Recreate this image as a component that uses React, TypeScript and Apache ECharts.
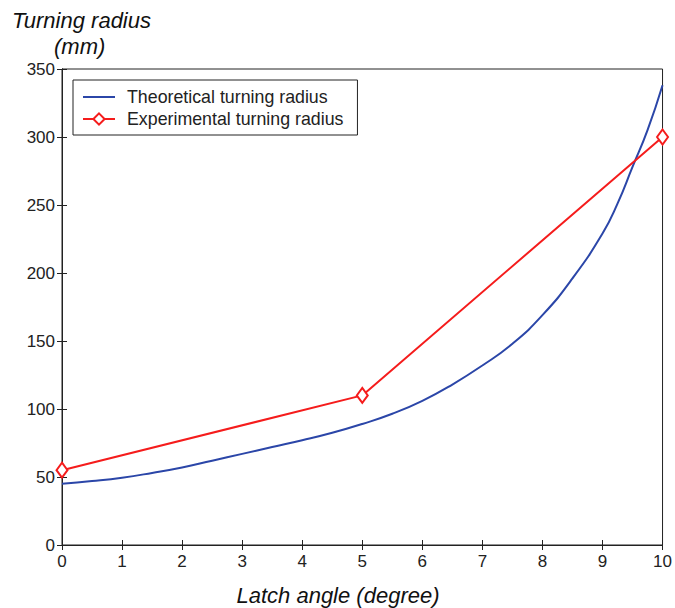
import React, { useEffect, useRef } from "react";
import * as echarts from "echarts";

const theoreticalX = [0, 0.5, 1, 1.5, 2, 2.5, 3, 3.5, 4, 4.5, 5, 5.5, 6, 6.5, 7, 7.5, 8, 8.5, 9, 9.25, 9.5, 9.75, 10];
const theoreticalY = [45, 47, 49.5, 53, 57, 62, 67, 72, 77, 82.5, 89, 96.5, 106, 118, 132, 148, 169, 196, 229, 251, 278, 305, 338];
const experimentalX = [0, 5, 10];
const experimentalY = [55, 110, 300];
const seriesNames = ["Theoretical turning radius", "Experimental turning radius"];

export default function App() {
  const ref = useRef<HTMLDivElement>(null);
  useEffect(() => {
    if (!ref.current) return;
    const chart = echarts.init(ref.current, null, { renderer: "svg" });
    const font = "Liberation Sans, Arial, sans-serif";
    const tickCommon = { show: true, inside: true, length: 5, lineStyle: { color: "#222", width: 1 } };
    chart.setOption({
      animation: false,
      backgroundColor: "#fff",
      grid: { left: 62, top: 69, right: 5, bottom: 63, show: true, borderColor: "#222", borderWidth: 1 },
      legend: {
        orient: "vertical",
        left: 73,
        top: 80,
        borderColor: "#222",
        borderWidth: 1,
        borderRadius: 0,
        padding: [8, 14, 7, 9],
        itemGap: 4,
        itemWidth: 32,
        itemHeight: 14,
        textStyle: { fontFamily: font, fontSize: 17.8, color: "#222", padding: [0, 0, 0, 7] },
        data: [
          { name: seriesNames[0], itemStyle: { color: "rgba(0,0,0,0)", borderWidth: 0, opacity: 0 } },
          { name: seriesNames[1] },
        ],
      },
      xAxis: [
        {
          type: "value",
          min: 0,
          max: 10,
          interval: 1,
          axisLine: { show: true, lineStyle: { color: "#222" } },
          axisTick: tickCommon,
          splitLine: { show: false },
          axisLabel: { fontFamily: font, fontSize: 17, color: "#222", margin: 8 },
        },
        {
          type: "value",
          position: "top",
          min: 0,
          max: 10,
          interval: 1,
          axisLine: { show: true, lineStyle: { color: "#222" } },
          axisTick: tickCommon,
          splitLine: { show: false },
          axisLabel: { show: false },
        },
      ],
      yAxis: [
        {
          type: "value",
          min: 0,
          max: 350,
          interval: 50,
          axisLine: { show: true, lineStyle: { color: "#222" } },
          axisTick: tickCommon,
          splitLine: { show: false },
          axisLabel: { fontFamily: font, fontSize: 17, color: "#222", margin: 7 },
        },
        {
          type: "value",
          position: "right",
          min: 0,
          max: 350,
          interval: 50,
          axisLine: { show: true, lineStyle: { color: "#222" } },
          axisTick: tickCommon,
          splitLine: { show: false },
          axisLabel: { show: false },
        },
      ],
      series: [
        {
          name: seriesNames[0],
          type: "line",
          smooth: true,
          symbol: "none",
          data: theoreticalX.map((x, i) => [x, theoreticalY[i]]),
          lineStyle: { color: "#2b46a8", width: 2 },
          itemStyle: { color: "#2b46a8" },
          z: 2,
        },
        {
          name: seriesNames[1],
          type: "line",
          symbol: "diamond",
          symbolSize: [11, 15],
          showAllSymbol: true,
          data: experimentalX.map((x, i) => [x, experimentalY[i]]),
          lineStyle: { color: "#f51c1c", width: 2 },
          itemStyle: { color: "#fff", borderColor: "#f51c1c", borderWidth: 2 },
          z: 3,
        },
      ],
      graphic: [
        {
          type: "text",
          x: 12,
          y: 9,
          style: { text: "Turning radius", font: "italic 22px " + font, fill: "#111", textVerticalAlign: "top" },
        },
        {
          type: "text",
          x: 54,
          y: 35,
          style: { text: "(mm)", font: "italic 22px " + font, fill: "#111", textVerticalAlign: "top" },
        },
        {
          type: "text",
          x: 338,
          y: 584,
          style: {
            text: "Latch angle (degree)",
            font: "italic 22px " + font,
            fill: "#111",
            textAlign: "center",
            textVerticalAlign: "top",
          },
        },
      ],
    });
    return () => chart.dispose();
  }, []);
  return (
    <div style={{ position: "absolute", left: 0, top: 0 }}>
      <div ref={ref} style={{ width: 675, height: 608 }} />
    </div>
  );
}
